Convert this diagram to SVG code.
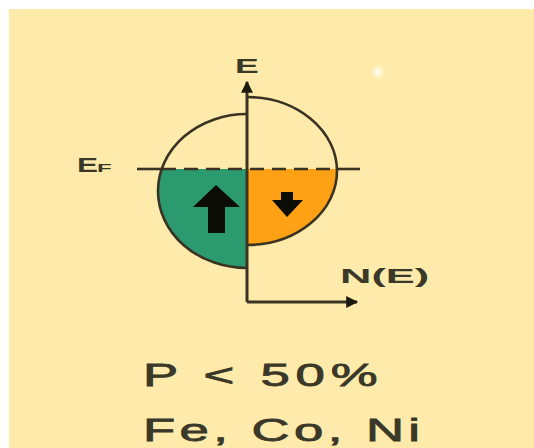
<svg xmlns="http://www.w3.org/2000/svg" width="534" height="448" viewBox="0 0 534 448">
  <style>
    .ax { stroke: #3a3222; stroke-width: 3; fill: none; }
    .arc { stroke: #3a3222; stroke-width: 2.6; fill: none; }
    .lbl { font-family: "Liberation Sans", Arial, sans-serif; fill: #3a3828; }
    .big { font-size: 31px; stroke: #3a3828; stroke-width: 0.8; }
    .sm { font-size: 21px; font-weight: bold; }
  </style>
  <defs>
    <marker id="ah" viewBox="0 0 10 10" refX="9" refY="5" markerWidth="5" markerHeight="4" markerUnits="strokeWidth" orient="auto">
      <path d="M0,0 L10,5 L0,10 Z" fill="#1a1a10"/>
    </marker>
    <filter id="glow" x="-1" y="-1" width="3" height="3">
      <feGaussianBlur stdDeviation="2"/>
    </filter>
  </defs>
  <rect width="534" height="448" fill="#ffffff"/>
  <rect x="9" y="9" width="525" height="439" fill="#feebab"/>
  <circle cx="378" cy="72" r="4" fill="#ffffff" filter="url(#glow)"/>

  <g id="spin-up-band">
    <path d="M247,169 L161.7,169 A89,77 0 0 0 247,268 Z" fill="#2b9a6e"/>
    <path d="M247,114 A89,77 0 0 0 247,268" class="arc"/>
    <path d="M216,185 L193,207 L208,207 L208,233 L225,233 L225,207 L240,207 Z" fill="#0d0d08"/>
  </g>
  <g id="spin-down-band">
    <path d="M247,169 L337,169 A90,74 0 0 1 247,245 Z" fill="#ffa114"/>
    <path d="M247,97 A90,74 0 0 1 247,245" class="arc"/>
    <path d="M281,192 L293,192 L293,200 L303,200 L287,217 L272,200 L281,200 Z" fill="#0d0d08"/>
  </g>

  <g id="connectors">
    <line x1="137" y1="169" x2="162" y2="169" class="arc"/>
    <line x1="162" y1="169" x2="337" y2="169" class="arc" stroke-dasharray="14 8"/>
    <line x1="337" y1="169" x2="360" y2="169" class="arc"/>
    <line x1="247" y1="302" x2="247" y2="82" class="ax" marker-end="url(#ah)"/>
    <line x1="247" y1="302" x2="357" y2="302" class="ax" marker-end="url(#ah)"/>
  </g>

  <g id="labels">
    <text class="lbl sm" transform="translate(247,73) scale(1.7,1)" text-anchor="middle">E</text>
    <text class="lbl sm" transform="translate(77,172) scale(1.5,1)">E</text>
    <text class="lbl" font-size="11" font-weight="bold" transform="translate(97,172) scale(2.2,1)">F</text>
    <text class="lbl sm" transform="translate(340,283) scale(1.9,1)" textLength="47" lengthAdjust="spacingAndGlyphs">N(E)</text>
    <text class="lbl big" transform="translate(143,386) scale(1.7,1)" textLength="138" lengthAdjust="spacing">P &lt; 50%</text>
    <text class="lbl big" transform="translate(143,441) scale(1.7,1)" textLength="163" lengthAdjust="spacing">Fe, Co, Ni</text>
  </g>
</svg>
